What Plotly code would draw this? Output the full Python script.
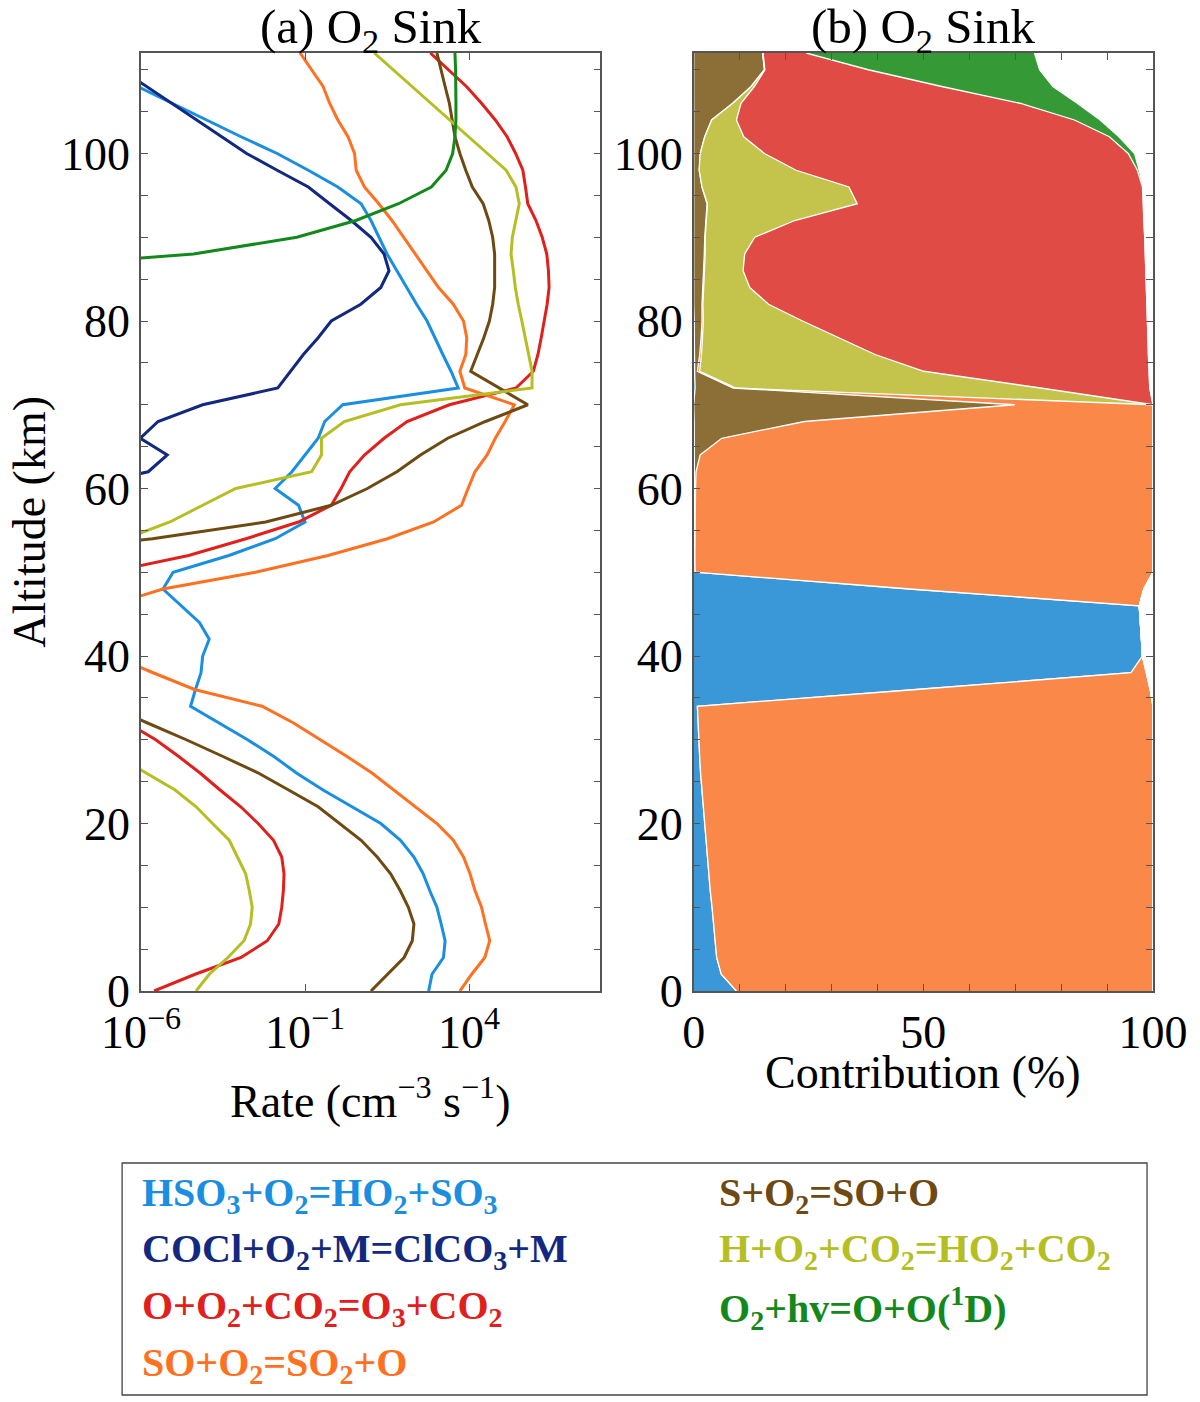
import numpy as np
import plotly.graph_objects as go

# altitude grid of the model output (km)
alt_km = list(range(0, 113, 2))

# (a) O2 sink rates, log10(cm^-3 s^-1), one value per altitude in alt_km
hso3_log = [2.77, 2.87, 3.22, 3.27, 3.15, 3.02, 2.80, 2.60, 2.32, 1.91, 1.31, 0.44, -0.45, -1.25, -1.95,
            -2.75, -3.60, -4.49, -4.34, -4.17, -4.12, -3.92, -4.22, -4.78, -5.33, -5.02, -3.32, -1.91, -1.00,
            -1.20, -1.91, -1.40, -1.00, -0.60, -0.40, 0.15, 3.67, 3.45, 3.20, 2.95, 2.72, 2.40, 2.11, 1.80,
            1.50, 1.25, 1.01, 0.71, 0.00, -0.90, -1.85, -2.95, -4.00, -5.06, -6.10, -7.15, -8.20]
cocl_log = [-9, -9, -9, -9, -9, -9, -9, -9, -9, -9, -9, -9, -9, -9, -9,
            -9, -9, -9, -9, -9, -9, -9, -9, -9, -9, -9, -9, -9, -9,
            -9, -8.0, -5.78, -5.20, -6.02, -5.48, -4.12, -1.83, -1.45, -1.05, -0.60, -0.20, 0.70, 1.31, 1.56,
            1.41, 1.01, 0.41, -0.25, -0.90, -1.85, -2.78, -3.54, -4.30, -5.07, -5.83, -6.60, -7.36]
o_o2_co2_log = [-5.60, -4.35, -2.95, -2.15, -1.80, -1.71, -1.66, -1.64, -1.71, -1.96, -2.43, -2.96, -3.59, -4.19, -4.85,
                -5.55, -6.40, -7.2, -8, -8, -8, -8, -8, -8, -8, -7.0, -4.55, -2.80, -1.20,
                -0.20, 0.10, 0.36, 0.81, 1.41, 2.11, 3.40, 5.43, 5.96, 6.10, 6.20, 6.30, 6.38, 6.44, 6.42,
                6.37, 6.23, 6.04, 5.79, 5.72, 5.64, 5.42, 5.16, 4.80, 4.38, 3.92, 3.37, 2.82]
so_o2_log = [3.72, 4.08, 4.48, 4.63, 4.50, 4.38, 4.18, 4.03, 3.83, 3.52, 3.02, 2.37, 1.71, 1.05, 0.28,
             -0.55, -1.35, -2.31, -4.37, -5.63, -6.8, -8, -8, -7.0, -5.33, -2.51, -0.30, 1.51, 2.92,
             3.77, 3.97, 4.18, 4.55, 4.80, 5.10, 5.38, 3.87, 3.72, 3.90, 3.93, 3.83, 3.52, 3.07, 2.72,
             2.35, 2.01, 1.65, 1.25, 0.81, 0.56, 0.51, 0.31, 0.00, -0.25, -0.45, -0.80, -1.15]
s_o2_log = [1.01, 1.51, 2.02, 2.27, 2.32, 2.15, 1.90, 1.61, 1.20, 0.71, 0.05, -0.60, -1.50, -2.41, -3.50,
            -4.62, -5.80, -7.0, -8, -8, -8, -8, -8, -8, -8, -9, -10, -5.65, -2.20,
            -0.20, 0.90, 1.80, 2.52, 3.35, 4.50, 5.79, 4.90, 4.05, 4.25, 4.45, 4.62, 4.72, 4.78, 4.78,
            4.78, 4.72, 4.60, 4.43, 4.10, 3.90, 3.72, 3.57, 3.49, 3.40, 3.27, 3.15, 3.02]
h_o2_co2_log = [-4.32, -3.92, -3.35, -2.86, -2.66, -2.61, -2.70, -2.81, -3.06, -3.31, -3.82, -4.32, -4.96, -5.80, -6.70,
                -8, -8, -8, -8, -8, -8, -8, -8, -8, -8, -8, -8, -6.47, -5.12,
                -4.12, -3.11, -0.80, -0.50, -0.50, 0.20, 1.91, 5.92, 5.92, 5.82, 5.73, 5.61, 5.50, 5.41, 5.35,
                5.28, 5.32, 5.43, 5.53, 5.43, 5.13, 4.56, 3.98, 3.41, 2.84, 2.26, 1.69, 1.11]
o2_hv_log = [-12, -12, -12, -12, -12, -12, -12, -12, -12, -12, -12, -12, -12, -12, -12,
             -12, -12, -12, -12, -12, -12, -12, -12, -12, -12, -12, -12, -12, -12,
             -12, -12, -12, -12, -12, -12, -12, -12, -12, -12, -12, -12, -12, -12, -11,
             -4.40, -1.25, 0.55, 1.85, 2.85, 3.30, 3.50, 3.57, 3.60, 3.60, 3.60, 3.59, 3.57]

# (b) contribution (%), one value per altitude in alt_km, in stacking order
blue_pct = [9.3, 6.0, 5.0, 4.7, 4.4, 4.0, 3.6, 3.3, 2.9, 2.6, 2.4, 2.1, 1.8, 1.5, 1.3,
            1.1, 0.9, 0.8, 48.5, 95.2, 97.7, 97.5, 97.3, 97.0, 47.1, 0.3, 0.2, 0.2, 0.2,
            0.2, 0.2, 0.2, 0.1, 0.1, 0.1, 0.0, 0.3, 0.2, 0.2, 0.1, 0.1, 0, 0, 0,
            0, 0, 0, 0, 0, 0, 0, 0, 0, 0, 0, 0, 0]
brown_pct = [0, 0, 0, 0, 0, 0, 0, 0, 0, 0, 0, 0, 0, 0, 0,
             0, 0, 0, 0, 0, 0, 0, 0, 0, 0, 0, 0.05, 0.05, 0.1,
             0.1, 0.2, 0.3, 1.3, 6.0, 24.0, 69.9, 8.3, 0.6, 1.1, 1.5, 1.7, 1.8, 2.0, 2.1,
             2.3, 2.4, 2.6, 2.9, 1.8, 1.2, 1.4, 2.4, 3.9, 8.5, 12.5, 15.4, 15.0]
orange_pct = [90.7, 94.0, 95.0, 95.3, 95.6, 96.0, 96.4, 96.7, 97.1, 97.4, 97.6, 97.9, 98.2, 98.5, 98.7,
              98.9, 99.1, 99.2, 50.9, 3.3, 0, 0, 0, 0, 50.9, 99.7, 99.75, 99.75, 99.7,
              99.7, 99.6, 99.5, 98.6, 93.9, 75.9, 30.1, 0.6, 0.5, 0.4, 0.3, 0.3, 0.2, 0.2, 0.2,
              0.2, 0.1, 0.1, 0.1, 0, 0, 0, 0, 0, 0, 0, 0, 0]
yellow_pct = [0, 0, 0, 0, 0, 0, 0, 0, 0, 0, 0, 0, 0, 0, 0,
              0, 0, 0, 0, 0, 0, 0, 0, 0, 0, 0, 0, 0, 0,
              0, 0, 0, 0, 0, 0, 0, 66.3, 48.8, 37.8, 29.7, 21.6, 14.3, 10.0, 8.45,
              8.6, 10.8, 19.3, 32.6, 32.0, 21.1, 14.0, 8.5, 5.4, 1.8, 0.7, 0.1, 0.1]
red_pct = [0, 0, 0, 0, 0, 0, 0, 0, 0, 0, 0, 0, 0, 0, 0,
           0, 0, 0, 0, 0, 0, 0, 0, 0, 0, 0, 0, 0, 0,
           0, 0, 0, 0, 0, 0, 0, 23.8, 49.0, 59.5, 67.3, 75.1, 82.4, 86.4, 87.65,
           87.2, 84.9, 76.0, 62.3, 63.9, 74.3, 79.2, 79.6, 73.6, 60.7, 40.8, 22.5, 9.4]
green_pct = [0, 0, 0, 0, 0, 0, 0, 0, 0, 0, 0, 0, 0, 0, 0,
             0, 0, 0, 0, 0, 0, 0, 0, 0, 0, 0, 0, 0, 0,
             0, 0, 0, 0, 0, 0, 0, 0, 0, 0, 0, 0, 0, 0, 0,
             0, 0, 0, 0.1, 0.2, 0.4, 1.4, 2.1, 5.6, 12.5, 24.2, 37.3, 49.7]

FONT = "Liberation Serif"
AX = "#555555"

rate_series = [
    (hso3_log, "#1a8ee0"),
    (cocl_log, "#12297f"),
    (o_o2_co2_log, "#e0201c"),
    (so_o2_log, "#ff7020"),
    (s_o2_log, "#6e4a12"),
    (h_o2_co2_log, "#b5be22"),
    (o2_hv_log, "#12891a"),
]
pct_series = [
    (blue_pct, "#3a98d8"),
    (brown_pct, "#8c6f36"),
    (orange_pct, "#fa8849"),
    (yellow_pct, "#c4c44c"),
    (red_pct, "#e04b45"),
    (green_pct, "#359a35"),
]

fig = go.Figure()

for vals, col in rate_series:
    fig.add_trace(go.Scatter(x=10 ** np.array(vals), y=alt_km, mode="lines",
                             line=dict(color=col, width=3), showlegend=False,
                             xaxis="x", yaxis="y"))

for vals, col in pct_series:
    fig.add_trace(go.Scatter(x=vals, y=alt_km, mode="lines", stackgroup="pct", orientation="h",
                             fillcolor=col, line=dict(color="white", width=1.3),
                             showlegend=False, xaxis="x2", yaxis="y2"))

# plot area in pixels: left 141..603, right 697..1159, top 53, bottom 991
W, H = 1200, 1402
L, R, T, B = 141, 1159, 53, 991


def px(xp):
    return (xp - L) / (R - L)


def py(yp):
    return (B - yp) / (B - T)


axis_common = dict(showline=True, linecolor=AX, linewidth=1.5, mirror="ticks", ticks="inside",
                   ticklen=7, tickcolor=AX, tickwidth=1.3, showgrid=False, zeroline=False,
                   tickfont=dict(family=FONT, size=46, color="black"))

fig.update_layout(
    width=W, height=H,
    margin=dict(l=L, r=W - R, t=T, b=H - B),
    paper_bgcolor="white", plot_bgcolor="white",
    font=dict(family=FONT, color="black"),
    xaxis=dict(domain=[0, px(603)], type="log", range=[-6, 8], anchor="y",
               tickvals=[1e-6, 1e-1, 1e4],
               ticktext=["10<sup>−6</sup>", "10<sup>−1</sup>", "10<sup>4</sup>"], **axis_common),
    yaxis=dict(domain=[0, 1], range=[0, 112], anchor="x", tickvals=[0, 20, 40, 60, 80, 100],
               minor=dict(dtick=5, ticks="inside", ticklen=7, tickcolor=AX), **axis_common),
    xaxis2=dict(domain=[px(697), 1], range=[0, 100], anchor="y2", tickvals=[0, 50, 100],
                minor=dict(dtick=10, ticks="inside", ticklen=7, tickcolor=AX), **axis_common),
    yaxis2=dict(domain=[0, 1], range=[0, 112], anchor="x2", tickvals=[0, 20, 40, 60, 80, 100],
                minor=dict(dtick=5, ticks="inside", ticklen=7, tickcolor=AX), **axis_common),
)

ann = [
    dict(text="(a) O<sub>2</sub> Sink", x=px(372), y=py(29), size=49),
    dict(text="(b) O<sub>2</sub> Sink", x=px(928), y=py(29), size=49),
    dict(text="Rate (cm<sup>−3</sup> s<sup>−1</sup>)", x=px(372), y=py(1098), size=46),
    dict(text="Contribution (%)", x=px(928), y=py(1072), size=46),
]
for a in ann:
    fig.add_annotation(text=a["text"], x=a["x"], y=a["y"], xref="paper", yref="paper",
                       showarrow=False, xanchor="center", yanchor="middle",
                       font=dict(family=FONT, size=a["size"], color="black"))
fig.add_annotation(text="Altitude (km)", x=px(28), y=py(522), xref="paper", yref="paper",
                   showarrow=False, textangle=-90, xanchor="center", yanchor="middle",
                   font=dict(family=FONT, size=46, color="black"))

# legend box
fig.add_shape(type="rect", xref="paper", yref="paper", x0=px(122), x1=px(1153), y0=py(1163), y1=py(1395),
              line=dict(color="#444444", width=1.3), fillcolor="white")

legend_left = [
    ("HSO<sub>3</sub>+O<sub>2</sub>=HO<sub>2</sub>+SO<sub>3</sub>", "#1a8ee0"),
    ("COCl+O<sub>2</sub>+M=ClCO<sub>3</sub>+M", "#12297f"),
    ("O+O<sub>2</sub>+CO<sub>2</sub>=O<sub>3</sub>+CO<sub>2</sub>", "#e0201c"),
    ("SO+O<sub>2</sub>=SO<sub>2</sub>+O", "#ff7020"),
]
legend_right = [
    ("S+O<sub>2</sub>=SO+O", "#6e4a12"),
    ("H+O<sub>2</sub>+CO<sub>2</sub>=HO<sub>2</sub>+CO<sub>2</sub>", "#b5be22"),
    ("O<sub>2</sub>+hv=O+O(<sup>1</sup>D)", "#12891a"),
]
row_y = [1195, 1251, 1308, 1365]
for (txt, col), yy in zip(legend_left, row_y):
    fig.add_annotation(text="<b>" + txt + "</b>", x=px(140), y=py(yy), xref="paper", yref="paper",
                       showarrow=False, xanchor="left", yanchor="middle",
                       font=dict(family=FONT, size=40, color=col))
for (txt, col), yy in zip(legend_right, row_y):
    fig.add_annotation(text="<b>" + txt + "</b>", x=px(720), y=py(yy), xref="paper", yref="paper",
                       showarrow=False, xanchor="left", yanchor="middle",
                       font=dict(family=FONT, size=40, color=col))

# the page body has a default 8px margin; drop it so the figure sits at the window origin
fig.write_html("out.html", config={"displayModeBar": False},
               post_script="document.body.style.margin='0';document.body.style.overflow='hidden';")
